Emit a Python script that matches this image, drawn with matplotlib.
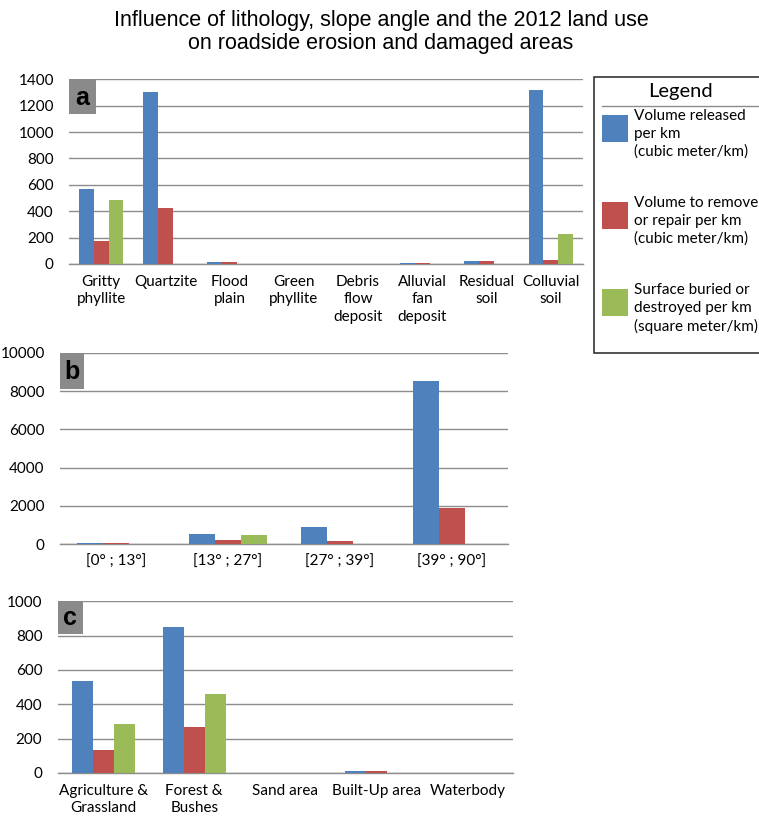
import matplotlib.pyplot as plt
from matplotlib.patches import Rectangle

# lithology
lith_labels = ["Gritty\nphyllite", "Quartzite", "Flood\nplain", "Green\nphyllite",
               "Debris\nflow\ndeposit", "Alluvial\nfan\ndeposit", "Residual\nsoil", "Colluvial\nsoil"]
lith_released = [570, 1300, 12, 0, 0, 10, 20, 1320]
lith_remove = [175, 420, 12, 0, 0, 10, 20, 30]
lith_surface = [485, 0, 0, 0, 0, 0, 0, 225]

# slope angle
slope_labels = ["[0° ; 13°]", "[13° ; 27°]", "[27° ; 39°]", "[39° ; 90°]"]
slope_released = [80, 550, 900, 8550]
slope_remove = [80, 200, 180, 1880]
slope_surface = [0, 500, 0, 0]

# land use 2012
land_labels = ["Agriculture &\nGrassland", "Forest &\nBushes", "Sand area", "Built-Up area", "Waterbody"]
land_released = [535, 850, 0, 10, 0]
land_remove = [135, 270, 0, 10, 0]
land_surface = [285, 460, 0, 0, 0]

series_names = ["Volume released\nper km\n(cubic meter/km)",
                "Volume to remove\nor repair per km\n(cubic meter/km)",
                "Surface buried or\ndestroyed per km\n(square meter/km)"]
colors = ["#4F81BD", "#C0504D", "#9BBB59"]

tick_font = "Lato"

fig = plt.figure(figsize=(7.59, 8.17), dpi=100)

fig.text(0.502, 0.988, "Influence of lithology, slope angle and the 2012 land use\non roadside erosion and damaged areas",
         ha="center", va="top", fontsize=15.5, family="Liberation Sans", linespacing=1.15)


def panel(rect, labels, series, ymax, step, letter, letter_w):
    ax = fig.add_axes(rect)
    n = len(labels)
    w = 0.23
    for i, vals in enumerate(series):
        xs = [k + (i - 1) * w for k in range(n)]
        ax.bar(xs, vals, width=w, color=colors[i], zorder=3)
    ax.set_xlim(-0.5, n - 0.5)
    ax.set_ylim(0, ymax)
    ax.set_yticks(range(0, ymax + 1, step))
    ax.set_xticks(range(n))
    ax.set_xticklabels(labels, fontsize=11, family=tick_font, linespacing=1.3, va="top")
    for t in ax.get_yticklabels():
        t.set_fontsize(11)
        t.set_family(tick_font)
    ax.tick_params(length=0)
    ax.tick_params(axis="y", pad=11)
    ax.tick_params(axis="x", pad=8)
    ax.grid(axis="y", color="#8c8c8c", linewidth=1.0, zorder=0)
    for s in ["left", "right", "top"]:
        ax.spines[s].set_visible(False)
    ax.spines["bottom"].set_color("#8c8c8c")
    ax.spines["bottom"].set_linewidth(1.0)
    # panel letter in a grey box
    ax.add_patch(Rectangle((0, 0.81), letter_w, 0.19, transform=ax.transAxes,
                           facecolor="#8a8a8a", edgecolor="none", zorder=4))
    ax.text(letter_w / 2, 0.90, letter, transform=ax.transAxes, ha="center", va="center",
            fontsize=18, fontweight="bold", family="Liberation Sans", zorder=5)
    return ax


panel([0.091, 0.677, 0.677, 0.226], lith_labels,
      [lith_released, lith_remove, lith_surface], 1400, 200, "a", 0.052)
panel([0.079, 0.334, 0.590, 0.234], slope_labels,
      [slope_released, slope_remove, slope_surface], 10000, 2000, "b", 0.054)
panel([0.076, 0.054, 0.600, 0.210], land_labels,
      [land_released, land_remove, land_surface], 1000, 200, "c", 0.055)

# legend box on the right
W, H = 759, 817
fig.patches.append(Rectangle((594 / W, 1 - 353 / H), 200 / W, 276 / H, transform=fig.transFigure,
                             facecolor="white", edgecolor="#333333", linewidth=1.2))
fig.text(680 / W, 1 - 91 / H, "Legend", ha="center", va="center", fontsize=14.5, family=tick_font)
fig.lines.append(plt.Line2D([602 / W, 1.0], [1 - 106 / H, 1 - 106 / H], transform=fig.transFigure,
                            color="#8c8c8c", linewidth=1.0))
for i, (name, y0) in enumerate(zip(series_names, [115, 202, 289])):
    fig.patches.append(Rectangle((602 / W, 1 - (y0 + 27) / H), 26 / W, 27 / H,
                                 transform=fig.transFigure, facecolor=colors[i], edgecolor="none"))
    fig.text(634 / W, 1 - (y0 - 6) / H, name, ha="left", va="top", fontsize=11,
             family=tick_font, linespacing=1.35)

fig.savefig("out.png", dpi=100)
